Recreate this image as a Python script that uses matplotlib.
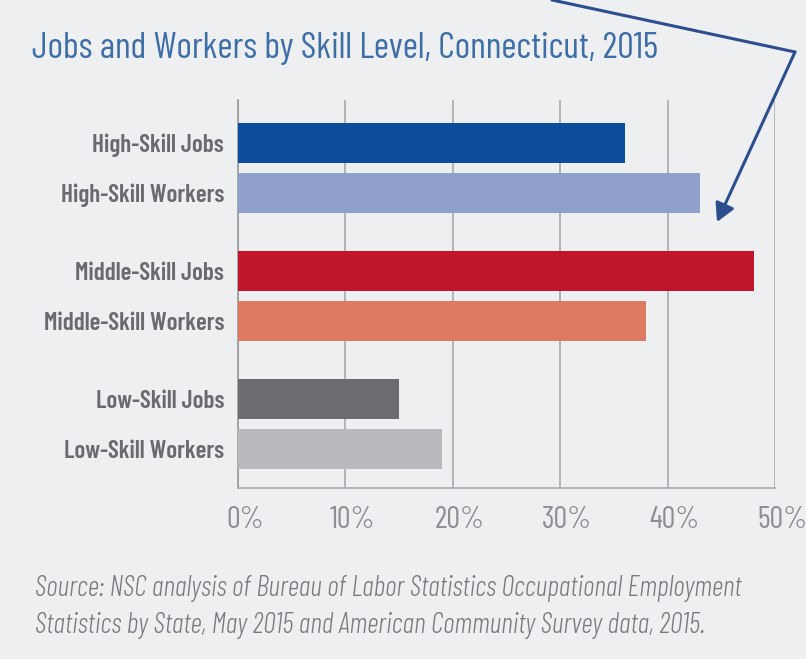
import matplotlib
matplotlib.use("Agg")
import matplotlib.pyplot as plt
from matplotlib import font_manager
from matplotlib.lines import Line2D
from matplotlib.patches import FancyArrowPatch
from matplotlib.transforms import ScaledTranslation, blended_transform_factory

# ---- data ----
categories = ["High-Skill Jobs", "High-Skill Workers",
              "Middle-Skill Jobs", "Middle-Skill Workers",
              "Low-Skill Jobs", "Low-Skill Workers"]
values = [36, 43, 48, 38, 15, 19]
groups = [0, 0, 1, 1, 2, 2]
colors = ["#0b4c9b", "#8fa0cb", "#c0152b", "#df7a62", "#6b6c70", "#b9babe"]
xticks = [0, 10, 20, 30, 40, 50]
xtick_labels = ["0%", "10%", "20%", "30%", "40%", "50%"]
title = "Jobs and Workers by Skill Level, Connecticut, 2015"
source_lines = ["Source: NSC analysis of Bureau of Labor Statistics Occupational Employment",
                "Statistics by State, May 2015 and American Community Survey data, 2015."]

avail = {f.name for f in font_manager.fontManager.ttflist}
def pick(*names):
    for n in names:
        if n in avail:
            return n
    return "DejaVu Sans"
cond = pick("Barlow Condensed", "Archivo Narrow", "Asap Condensed")

BG = "#eeeff1"
W, H = 806, 659
fig = plt.figure(figsize=(W / 100, H / 100), dpi=100, facecolor=BG)
ax = fig.add_axes([238 / W, 1 - 488 / H, (775 - 238) / W, (488 - 100) / H])
ax.set_facecolor(BG)

# positions: within-group step 1, group step 2.56
pos = [g * 2.56 + (i % 2) for i, g in enumerate(groups)]
ax.barh(pos, values, height=0.8, color=colors, zorder=3)

ax.set_xlim(0, 50)
ax.set_ylim(6.9, -0.86)
ax.set_xticks(xticks)
ax.set_xticklabels([])
# x tick labels, drawn slightly right of their gridlines as in the reference
tr = blended_transform_factory(ax.transData, ax.transAxes) + \
    ScaledTranslation(7 / 100, -18 / 100, fig.dpi_scale_trans)
for xv, lbl in zip(xticks, xtick_labels):
    ax.text(xv, 0, lbl, transform=tr, ha="center", va="top", family=cond,
            fontsize=22, fontweight=400, color="#8d8e92", clip_on=False)
ax.set_yticks(pos)
ax.set_yticklabels(categories, family=cond, fontsize=18, fontweight=600, color="#6a6b6e")
ax.tick_params(axis="both", length=0)
ax.tick_params(axis="y", pad=10)
ax.grid(axis="x", color="#a9aaad", linewidth=1.2, zorder=1)
for s in ["top", "right"]:
    ax.spines[s].set_visible(False)
ax.spines["left"].set_color("#9a9b9e")
ax.spines["bottom"].set_color("#a9aaad")
ax.spines["left"].set_linewidth(1.2)
ax.spines["bottom"].set_linewidth(1.2)

fig.text(32 / W, 1 - 58 / H, title, family=cond, fontsize=26.5, fontweight=400, color="#3d6ea6",
         ha="left", va="baseline")
for k, line in enumerate(source_lines):
    fig.text(35 / W, 1 - (596 + 37 * k) / H, line, family=cond, style="italic", fontweight=300,
             fontsize=20.4, color="#7a7b7e", ha="left", va="baseline")

# annotation arrow
def fp(x, y):
    return (x / W, 1 - y / H)

acol = "#2d4e8e"
p0, p1, p2 = fp(552, 0), fp(795, 52), fp(717, 222)
fig.add_artist(Line2D([p0[0], p1[0]], [p0[1], p1[1]], color=acol, linewidth=2.2,
                      transform=fig.transFigure, solid_capstyle="round"))
fig.add_artist(FancyArrowPatch(p1, p2, transform=fig.transFigure, color=acol,
                               arrowstyle="-|>,head_length=11,head_width=6",
                               linewidth=2.2, shrinkA=0, shrinkB=0))

fig.savefig("out.png", dpi=100, facecolor=BG)
